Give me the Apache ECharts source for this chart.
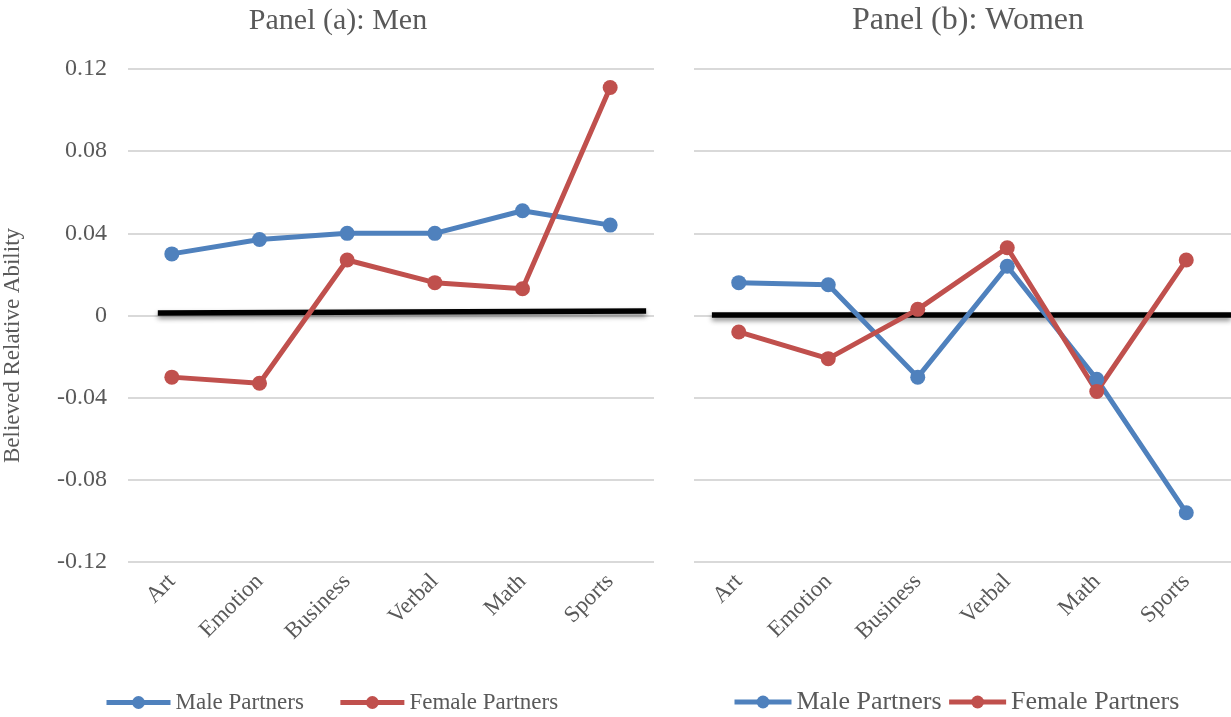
<!DOCTYPE html>
<html>
<head>
<meta charset="utf-8">
<title>Believed Relative Ability</title>
<script src="https://cdn.jsdelivr.net/npm/echarts@6/dist/echarts.min.js"></script>
<style>
	html, body { margin: 0; padding: 0; background: #fff; }
	#chart { width: 1231px; height: 717px; }
</style>
</head>
<body>
<div id="chart"></div>
<script>
// categories and values
var categories = ['Art', 'Emotion', 'Business', 'Verbal', 'Math', 'Sports'];
var panelTitles = ['Panel (a): Men', 'Panel (b): Women'];
var seriesNames = ['Male Partners', 'Female Partners'];

var menMale = [0.030, 0.037, 0.040, 0.040, 0.051, 0.044];
var menFemale = [-0.030, -0.033, 0.027, 0.016, 0.013, 0.111];
var womenMale = [0.016, 0.015, -0.030, 0.024, -0.031, -0.096];
var womenFemale = [-0.008, -0.021, 0.003, 0.033, -0.037, 0.027];

// the black reference line near zero (x in category units 0..6)
var menZeroLine = [[0.34, 0.0012], [5.91, 0.0022]];
var womenZeroLine = [[0.2, 0.0003], [6, 0.0003]];

// y axis ticks
var yMin = -0.12;
var yMax = 0.12;
var yStep = 0.04;

var FONT = 'Liberation Serif';
var TEXT = '#595959';
var BLUE = '#4F81BD';
var RED = '#C0504D';

var myChart = echarts.init(document.getElementById('chart'));

function lineSeries(name, data, idx, color) {
	return {
		name: name,
		type: 'line',
		xAxisIndex: idx,
		yAxisIndex: idx,
		data: data,
		symbol: 'circle',
		symbolSize: 15,
		z: 3,
		itemStyle: { color: color },
		lineStyle: { color: color, width: 5 },
		emphasis: { disabled: true }
	};
}

function zeroSeries(data, idx) {
	return {
		type: 'line',
		xAxisIndex: idx + 2,
		yAxisIndex: idx,
		data: data,
		symbol: 'none',
		z: 2,
		silent: true,
		lineStyle: {
			color: '#000',
			width: 5.5,
			shadowColor: 'rgba(0,0,0,0.45)',
			shadowBlur: 5,
			shadowOffsetY: 3
		}
	};
}

function catAxis(gridIndex, size) {
	return {
		type: 'category',
		gridIndex: gridIndex,
		data: categories,
		boundaryGap: true,
		axisLine: { show: false },
		axisTick: { show: false },
		axisLabel: {
			rotate: 45,
			interval: 0,
			margin: 16,
			color: TEXT,
			fontFamily: FONT,
			fontSize: size
		}
	};
}

function valAxis(gridIndex, showLabel) {
	return {
		type: 'value',
		gridIndex: gridIndex,
		min: yMin,
		max: yMax,
		interval: yStep,
		name: showLabel ? 'Believed Relative Ability' : '',
		nameLocation: 'middle',
		nameGap: 104,
		nameTextStyle: { color: TEXT, fontFamily: FONT, fontSize: 23, padding: [0, 60, 0, 0] },
		axisLine: { show: false },
		axisTick: { show: false },
		axisLabel: {
			show: showLabel,
			margin: 21,
			color: TEXT,
			fontFamily: FONT,
			fontSize: 24
		},
		splitLine: { lineStyle: { color: '#D9D9D9', width: 2 } }
	};
}

function hiddenX(gridIndex) {
	return { type: 'value', gridIndex: gridIndex, min: 0, max: 6, show: false };
}

var option = {
	animation: false,
	backgroundColor: '#fff',
	textStyle: { fontFamily: FONT },
	title: [
		{
			text: panelTitles[0], left: 333, top: 1, textAlign: 'center',
			textStyle: { color: TEXT, fontFamily: FONT, fontSize: 30, fontWeight: 'normal' }
		},
		{
			text: panelTitles[1], left: 963, top: 0, textAlign: 'center',
			textStyle: { color: TEXT, fontFamily: FONT, fontSize: 32, fontWeight: 'normal' }
		}
	],
	legend: [
		{
			data: seriesNames, left: 99, top: 686, itemWidth: 64, itemHeight: 16, itemGap: 34,
			lineStyle: { width: 5 },
			textStyle: { color: TEXT, fontFamily: FONT, fontSize: 23 }
		},
		{
			data: seriesNames, left: 727, top: 684, itemWidth: 57, itemHeight: 16, itemGap: 5,
			lineStyle: { width: 5 },
			textStyle: { color: TEXT, fontFamily: FONT, fontSize: 26 }
		}
	],
	grid: [
		{ left: 126, top: 69, width: 528, height: 493 },
		{ left: 694, top: 69, width: 537, height: 493 }
	],
	xAxis: [catAxis(0, 23), catAxis(1, 23), hiddenX(0), hiddenX(1)],
	yAxis: [valAxis(0, true), valAxis(1, false)],
	series: [
		zeroSeries(menZeroLine, 0),
		zeroSeries(womenZeroLine, 1),
		lineSeries(seriesNames[0], menMale, 0, BLUE),
		lineSeries(seriesNames[1], menFemale, 0, RED),
		lineSeries(seriesNames[0], womenMale, 1, BLUE),
		lineSeries(seriesNames[1], womenFemale, 1, RED)
	]
};

// 绘制图表
myChart.setOption(option);
</script>
</body>
</html>
